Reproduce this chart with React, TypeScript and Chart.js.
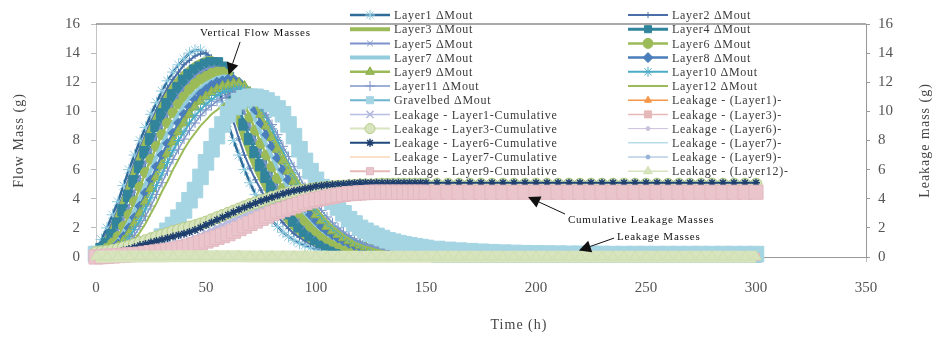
import React, { useEffect, useRef } from 'react';
import { Chart, registerables } from 'chart.js';
import { drawPoint } from 'chart.js/helpers';

Chart.register(...registerables);

const SERIF = "'Liberation Serif', 'Times New Roman', serif";

// time axis (h) for flow and cumulative series
const hours = [
  0, 2.5, 5, 7.5, 10, 12.5, 15, 17.5, 20, 22.5,
  25, 27.5, 30, 32.5, 35, 37.5, 40, 42.5, 45, 47.5,
  50, 52.5, 55, 57.5, 60, 62.5, 65, 67.5, 70, 72.5,
  75, 77.5, 80, 82.5, 85, 87.5, 90, 92.5, 95, 97.5,
  100, 102.5, 105, 107.5, 110, 112.5, 115, 117.5, 120, 122.5,
  125, 127.5, 130, 132.5, 135, 137.5, 140, 142.5, 145, 147.5,
  150,
  155, 160, 165, 170, 175, 180, 185, 190, 195, 200,
  205, 210, 215, 220, 225, 230, 235, 240, 245, 250,
  255, 260, 265, 270, 275, 280, 285, 290, 295, 300,
];
// time axis (h) for the leakage-rate series
const rateHours = [
  0, 5, 10, 15, 20, 25, 30, 35, 40, 45,
  50, 55, 60, 65, 70, 75, 80, 85, 90, 95,
  100, 105, 110, 115, 120, 125, 130, 135, 140, 145,
  150, 155, 160, 165, 170, 175, 180, 185, 190, 195,
  200, 205, 210, 215, 220, 225, 230, 235, 240, 245,
  250, 255, 260, 265, 270, 275, 280, 285, 290, 295,
  300,
];

const xTicks = [0, 50, 100, 150, 200, 250, 300, 350];
const yTicks = [0, 2, 4, 6, 8, 10, 12, 14, 16];

// Flow mass out (g) per layer, on `hours`
const layer1 = [
  0.5, 1.2, 2.0, 2.9, 3.8, 4.9, 6.0, 7.0, 8.0, 8.9,
  9.8, 10.6, 11.4, 12.1, 12.7, 13.2, 13.6, 14.0, 14.2, 14.2,
  13.9, 13.1, 12.0, 10.6, 9.2, 8.0, 7.0, 6.0, 5.1, 4.3,
  3.6, 3.0, 2.5, 2.1, 1.7, 1.4, 1.15, 0.95, 0.8, 0.65,
  0.55, 0.45, 0.4, 0.35, 0.3, 0.27, 0.25, 0.22, 0.2, 0.2,
  0.18, 0.17, 0.16, 0.15, 0.15, 0.15, 0.15, 0.15, 0.15, 0.15,
  0.1,
  0.05, 0.05, 0.05, 0.05, 0.05, 0.05, 0.05, 0.05, 0.05, 0.05,
  0.05, 0.05, 0.05, 0.05, 0.05, 0.05, 0.05, 0.05, 0.05, 0.05,
  0.05, 0.05, 0.05, 0.05, 0.05, 0.05, 0.05, 0.05, 0.05, 0.05,
];
const layer2 = [
  0.4, 0.9, 1.6, 2.4, 3.3, 4.3, 5.4, 6.5, 7.5, 8.4,
  9.3, 10.1, 10.9, 11.6, 12.2, 12.7, 13.2, 13.5, 13.8, 13.95,
  14.0, 13.7, 13.0, 11.9, 10.6, 9.3, 8.1, 7.0, 6.1, 5.3,
  4.6, 3.9, 3.3, 2.8, 2.35, 1.95, 1.6, 1.35, 1.1, 0.9,
  0.75, 0.62, 0.52, 0.45, 0.38, 0.33, 0.29, 0.26, 0.23, 0.21,
  0.2, 0.18, 0.17, 0.16, 0.15, 0.15, 0.15, 0.15, 0.15, 0.15,
  0.1,
  0.05, 0.05, 0.05, 0.05, 0.05, 0.05, 0.05, 0.05, 0.05, 0.05,
  0.05, 0.05, 0.05, 0.05, 0.05, 0.05, 0.05, 0.05, 0.05, 0.05,
  0.05, 0.05, 0.05, 0.05, 0.05, 0.05, 0.05, 0.05, 0.05, 0.05,
];
const layer3 = [
  0.3, 0.7, 1.2, 1.9, 2.8, 3.8, 4.8, 5.9, 6.9, 7.9,
  8.8, 9.6, 10.4, 11.1, 11.7, 12.2, 12.6, 12.9, 13.2, 13.4,
  13.55, 13.6, 13.4, 12.7, 11.6, 10.4, 9.2, 8.1, 7.1, 6.2,
  5.4, 4.7, 4.0, 3.4, 2.9, 2.4, 2.0, 1.7, 1.4, 1.15,
  0.95, 0.8, 0.67, 0.56, 0.47, 0.4, 0.34, 0.3, 0.26, 0.23,
  0.21, 0.19, 0.18, 0.17, 0.16, 0.15, 0.15, 0.15, 0.15, 0.15,
  0.1,
  0.05, 0.05, 0.05, 0.05, 0.05, 0.05, 0.05, 0.05, 0.05, 0.05,
  0.05, 0.05, 0.05, 0.05, 0.05, 0.05, 0.05, 0.05, 0.05, 0.05,
  0.05, 0.05, 0.05, 0.05, 0.05, 0.05, 0.05, 0.05, 0.05, 0.05,
];
const layer4 = [
  0.3, 0.55, 0.9, 1.5, 2.3, 3.2, 4.2, 5.2, 6.2, 7.2,
  8.1, 9.0, 9.8, 10.5, 11.1, 11.6, 12.1, 12.5, 12.8, 13.0,
  13.2, 13.3, 13.3, 13.0, 12.3, 11.3, 10.2, 9.1, 8.1, 7.2,
  6.3, 5.5, 4.8, 4.1, 3.5, 3.0, 2.5, 2.1, 1.8, 1.5,
  1.25, 1.05, 0.88, 0.74, 0.62, 0.52, 0.44, 0.38, 0.33, 0.28,
  0.25, 0.22, 0.2, 0.18, 0.17, 0.16, 0.15, 0.15, 0.15, 0.15,
  0.1,
  0.05, 0.05, 0.05, 0.05, 0.05, 0.05, 0.05, 0.05, 0.05, 0.05,
  0.05, 0.05, 0.05, 0.05, 0.05, 0.05, 0.05, 0.05, 0.05, 0.05,
  0.05, 0.05, 0.05, 0.05, 0.05, 0.05, 0.05, 0.05, 0.05, 0.05,
];
const layer5 = [
  0.2, 0.4, 0.7, 1.2, 1.8, 2.6, 3.5, 4.5, 5.5, 6.5,
  7.4, 8.3, 9.1, 9.8, 10.5, 11.1, 11.6, 12.0, 12.4, 12.7,
  12.9, 13.0, 13.0, 12.9, 12.5, 11.8, 10.9, 9.9, 8.9, 8.0,
  7.1, 6.3, 5.5, 4.8, 4.1, 3.5, 3.0, 2.5, 2.1, 1.8,
  1.5, 1.27, 1.07, 0.9, 0.76, 0.64, 0.54, 0.46, 0.39, 0.34,
  0.3, 0.26, 0.23, 0.21, 0.19, 0.17, 0.16, 0.15, 0.15, 0.15,
  0.1,
  0.05, 0.05, 0.05, 0.05, 0.05, 0.05, 0.05, 0.05, 0.05, 0.05,
  0.05, 0.05, 0.05, 0.05, 0.05, 0.05, 0.05, 0.05, 0.05, 0.05,
  0.05, 0.05, 0.05, 0.05, 0.05, 0.05, 0.05, 0.05, 0.05, 0.05,
];
const layer6 = [
  0.2, 0.4, 0.6, 0.95, 1.4, 2.1, 2.9, 3.8, 4.8, 5.8,
  6.7, 7.6, 8.4, 9.2, 9.9, 10.5, 11.0, 11.5, 11.9, 12.2,
  12.4, 12.6, 12.7, 12.7, 12.5, 12.1, 11.4, 10.5, 9.6, 8.7,
  7.8, 7.0, 6.2, 5.4, 4.7, 4.1, 3.5, 3.0, 2.5, 2.1,
  1.8, 1.5, 1.28, 1.08, 0.92, 0.78, 0.66, 0.56, 0.48, 0.41,
  0.35, 0.3, 0.26, 0.23, 0.21, 0.19, 0.17, 0.16, 0.15, 0.15,
  0.1,
  0.05, 0.05, 0.05, 0.05, 0.05, 0.05, 0.05, 0.05, 0.05, 0.05,
  0.05, 0.05, 0.05, 0.05, 0.05, 0.05, 0.05, 0.05, 0.05, 0.05,
  0.05, 0.05, 0.05, 0.05, 0.05, 0.05, 0.05, 0.05, 0.05, 0.05,
];
const layer7 = [
  0.1, 0.3, 0.5, 0.75, 1.1, 1.7, 2.4, 3.2, 4.1, 5.0,
  6.0, 6.9, 7.7, 8.5, 9.2, 9.8, 10.4, 10.9, 11.3, 11.6,
  11.9, 12.1, 12.3, 12.4, 12.4, 12.2, 11.8, 11.1, 10.3, 9.4,
  8.5, 7.7, 6.9, 6.1, 5.4, 4.7, 4.1, 3.5, 3.0, 2.6,
  2.2, 1.85, 1.57, 1.33, 1.13, 0.96, 0.82, 0.7, 0.6, 0.51,
  0.44, 0.38, 0.33, 0.29, 0.25, 0.22, 0.2, 0.18, 0.16, 0.15,
  0.1,
  0.05, 0.05, 0.05, 0.05, 0.05, 0.05, 0.05, 0.05, 0.05, 0.05,
  0.05, 0.05, 0.05, 0.05, 0.05, 0.05, 0.05, 0.05, 0.05, 0.05,
  0.05, 0.05, 0.05, 0.05, 0.05, 0.05, 0.05, 0.05, 0.05, 0.05,
];
const layer8 = [
  0.1, 0.25, 0.4, 0.6, 0.9, 1.4, 2.0, 2.7, 3.5, 4.4,
  5.3, 6.2, 7.0, 7.8, 8.5, 9.2, 9.8, 10.3, 10.8, 11.2,
  11.5, 11.8, 12.0, 12.1, 12.2, 12.2, 12.0, 11.6, 10.9, 10.1,
  9.2, 8.4, 7.6, 6.8, 6.0, 5.3, 4.6, 4.0, 3.4, 2.9,
  2.5, 2.1, 1.8, 1.53, 1.3, 1.1, 0.94, 0.8, 0.68, 0.58,
  0.5, 0.43, 0.37, 0.32, 0.28, 0.24, 0.21, 0.19, 0.17, 0.15,
  0.1,
  0.05, 0.05, 0.05, 0.05, 0.05, 0.05, 0.05, 0.05, 0.05, 0.05,
  0.05, 0.05, 0.05, 0.05, 0.05, 0.05, 0.05, 0.05, 0.05, 0.05,
  0.05, 0.05, 0.05, 0.05, 0.05, 0.05, 0.05, 0.05, 0.05, 0.05,
];
const layer9 = [
  0.1, 0.2, 0.3, 0.45, 0.7, 1.1, 1.6, 2.3, 3.0, 3.8,
  4.7, 5.5, 6.3, 7.1, 7.9, 8.6, 9.2, 9.8, 10.3, 10.7,
  11.0, 11.3, 11.5, 11.7, 11.8, 11.9, 11.9, 11.7, 11.3, 10.6,
  9.8, 9.0, 8.2, 7.4, 6.6, 5.9, 5.2, 4.5, 3.9, 3.4,
  2.9, 2.5, 2.1, 1.8, 1.55, 1.32, 1.12, 0.95, 0.81, 0.69,
  0.59, 0.5, 0.43, 0.37, 0.32, 0.28, 0.24, 0.21, 0.18, 0.16,
  0.1,
  0.05, 0.05, 0.05, 0.05, 0.05, 0.05, 0.05, 0.05, 0.05, 0.05,
  0.05, 0.05, 0.05, 0.05, 0.05, 0.05, 0.05, 0.05, 0.05, 0.05,
  0.05, 0.05, 0.05, 0.05, 0.05, 0.05, 0.05, 0.05, 0.05, 0.05,
];
const layer10 = [
  0.1, 0.15, 0.2, 0.3, 0.5, 0.85, 1.3, 1.9, 2.5, 3.3,
  4.1, 4.9, 5.7, 6.5, 7.3, 8.0, 8.6, 9.2, 9.7, 10.1,
  10.5, 10.8, 11.1, 11.3, 11.4, 11.5, 11.6, 11.5, 11.3, 10.9,
  10.3, 9.6, 8.8, 8.0, 7.2, 6.4, 5.7, 5.0, 4.4, 3.8,
  3.3, 2.85, 2.45, 2.1, 1.8, 1.55, 1.32, 1.12, 0.95, 0.81,
  0.69, 0.59, 0.5, 0.43, 0.37, 0.32, 0.27, 0.23, 0.2, 0.17,
  0.1,
  0.05, 0.05, 0.05, 0.05, 0.05, 0.05, 0.05, 0.05, 0.05, 0.05,
  0.05, 0.05, 0.05, 0.05, 0.05, 0.05, 0.05, 0.05, 0.05, 0.05,
  0.05, 0.05, 0.05, 0.05, 0.05, 0.05, 0.05, 0.05, 0.05, 0.05,
];
const layer11 = [
  0.1, 0.15, 0.2, 0.28, 0.4, 0.65, 1.0, 1.5, 2.1, 2.8,
  3.5, 4.3, 5.1, 5.9, 6.7, 7.4, 8.1, 8.7, 9.2, 9.7,
  10.1, 10.4, 10.7, 10.9, 11.1, 11.3, 11.4, 11.4, 11.2, 10.9,
  10.4, 9.8, 9.1, 8.4, 7.6, 6.9, 6.2, 5.5, 4.8, 4.2,
  3.7, 3.2, 2.75, 2.35, 2.0, 1.72, 1.47, 1.25, 1.06, 0.9,
  0.77, 0.65, 0.55, 0.47, 0.4, 0.34, 0.29, 0.25, 0.21, 0.18,
  0.1,
  0.05, 0.05, 0.05, 0.05, 0.05, 0.05, 0.05, 0.05, 0.05, 0.05,
  0.05, 0.05, 0.05, 0.05, 0.05, 0.05, 0.05, 0.05, 0.05, 0.05,
  0.05, 0.05, 0.05, 0.05, 0.05, 0.05, 0.05, 0.05, 0.05, 0.05,
];
const layer12 = [
  0.0, 0.05, 0.1, 0.2, 0.3, 0.5, 0.8, 1.2, 1.7, 2.3,
  3.0, 3.7, 4.5, 5.2, 6.0, 6.7, 7.4, 8.0, 8.5, 9.0,
  9.4, 9.8, 10.1, 10.4, 10.7, 10.9, 11.1, 11.2, 11.0, 10.4,
  9.6, 9.0, 8.4, 7.7, 7.0, 6.3, 5.7, 5.1, 4.5, 3.9,
  3.4, 2.9, 2.5, 2.1, 1.8, 1.5, 1.25, 1.0, 0.85, 0.7,
  0.6, 0.5, 0.42, 0.35, 0.3, 0.25, 0.2, 0.18, 0.16, 0.15,
  0.1,
  0.05, 0.05, 0.05, 0.05, 0.05, 0.05, 0.05, 0.05, 0.05, 0.05,
  0.05, 0.05, 0.05, 0.05, 0.05, 0.05, 0.05, 0.05, 0.05, 0.05,
  0.05, 0.05, 0.05, 0.05, 0.05, 0.05, 0.05, 0.05, 0.05, 0.05,
];
const gravelbed = [
  0.2, 0.2, 0.2, 0.25, 0.3, 0.35, 0.4, 0.5, 0.6, 0.75,
  0.9, 1.1, 1.4, 1.8, 2.2, 2.7, 3.2, 3.9, 4.6, 5.5,
  6.5, 7.4, 8.3, 9.1, 9.8, 10.3, 10.7, 10.9, 11.0, 11.0,
  10.9, 10.75, 10.5, 10.2, 9.8, 9.1, 8.3, 7.4, 6.6, 5.9,
  5.3, 4.8, 4.3, 3.8, 3.4, 3.0, 2.6, 2.3, 2.0, 1.8,
  1.6, 1.45, 1.3, 1.15, 1.05, 0.95, 0.87, 0.8, 0.74, 0.68,
  0.62,
  0.55, 0.49, 0.44, 0.4, 0.36, 0.33, 0.3, 0.28, 0.26, 0.25,
  0.24, 0.23, 0.22, 0.22, 0.21, 0.21, 0.2, 0.2, 0.2, 0.2,
  0.2, 0.2, 0.2, 0.2, 0.2, 0.2, 0.2, 0.2, 0.2, 0.2,
];

// Cumulative leakage masses (g), right axis, on `hours`
const cumL1 = [
  0.0, 0.02, 0.05, 0.07, 0.1, 0.15, 0.2, 0.25, 0.3, 0.37,
  0.45, 0.52, 0.6, 0.7, 0.8, 0.92, 1.05, 1.2, 1.35, 1.52,
  1.7, 1.87, 2.05, 2.22, 2.4, 2.57, 2.75, 2.9, 3.05, 3.2,
  3.35, 3.48, 3.6, 3.7, 3.8, 3.88, 3.95, 4.0, 4.05, 4.1,
  4.15, 4.17, 4.2, 4.22, 4.25, 4.27, 4.3, 4.3, 4.3, 4.3,
  4.3, 4.3, 4.3, 4.3, 4.3, 4.3, 4.3, 4.3, 4.3, 4.3,
  4.3,
  4.3, 4.3, 4.3, 4.3, 4.3, 4.3, 4.3, 4.3, 4.3, 4.3,
  4.3, 4.3, 4.3, 4.3, 4.3, 4.3, 4.3, 4.3, 4.3, 4.3,
  4.3, 4.3, 4.3, 4.3, 4.3, 4.3, 4.3, 4.3, 4.3, 4.3,
];
const cumL3 = [
  0.3, 0.35, 0.4, 0.47, 0.55, 0.65, 0.75, 0.87, 1.0, 1.12,
  1.25, 1.37, 1.5, 1.62, 1.75, 1.85, 1.95, 2.05, 2.15, 2.27,
  2.4, 2.55, 2.7, 2.85, 3.0, 3.15, 3.3, 3.45, 3.6, 3.72,
  3.85, 3.97, 4.1, 4.2, 4.3, 4.4, 4.5, 4.55, 4.6, 4.65,
  4.7, 4.75, 4.8, 4.82, 4.85, 4.87, 4.9, 4.92, 4.95, 4.95,
  4.95, 4.97, 5.0, 5.0, 5.0, 5.0, 5.0, 5.0, 5.0, 5.0,
  5.0,
  5.0, 5.0, 5.0, 5.0, 5.0, 5.0, 5.0, 5.0, 5.0, 5.0,
  5.0, 5.0, 5.0, 5.0, 5.0, 5.0, 5.0, 5.0, 5.0, 5.0,
  5.0, 5.0, 5.0, 5.0, 5.0, 5.0, 5.0, 5.0, 5.0, 5.0,
];
const cumL6 = [
  0.1, 0.15, 0.2, 0.27, 0.35, 0.45, 0.55, 0.67, 0.8, 0.9,
  1.0, 1.1, 1.2, 1.3, 1.4, 1.5, 1.6, 1.72, 1.85, 2.02,
  2.2, 2.37, 2.55, 2.72, 2.9, 3.07, 3.25, 3.4, 3.55, 3.7,
  3.85, 3.97, 4.1, 4.22, 4.35, 4.45, 4.55, 4.62, 4.7, 4.77,
  4.85, 4.9, 4.95, 4.97, 5.0, 5.02, 5.05, 5.07, 5.1, 5.1,
  5.1, 5.1, 5.1, 5.1, 5.1, 5.1, 5.1, 5.1, 5.1, 5.1,
  5.1,
  5.1, 5.1, 5.1, 5.1, 5.1, 5.1, 5.1, 5.1, 5.1, 5.1,
  5.1, 5.1, 5.1, 5.1, 5.1, 5.1, 5.1, 5.1, 5.1, 5.1,
  5.1, 5.1, 5.1, 5.1, 5.1, 5.1, 5.1, 5.1, 5.1, 5.1,
];
const cumL7 = [
  0.0, 0.02, 0.05, 0.07, 0.1, 0.12, 0.15, 0.17, 0.2, 0.25,
  0.3, 0.37, 0.45, 0.52, 0.6, 0.7, 0.8, 0.9, 1.0, 1.12,
  1.25, 1.37, 1.5, 1.65, 1.8, 1.95, 2.1, 2.25, 2.4, 2.55,
  2.7, 2.85, 3.0, 3.15, 3.3, 3.42, 3.55, 3.67, 3.8, 3.9,
  4.0, 4.07, 4.15, 4.22, 4.3, 4.35, 4.4, 4.42, 4.45, 4.47,
  4.5, 4.5, 4.5, 4.5, 4.5, 4.5, 4.5, 4.5, 4.5, 4.5,
  4.5,
  4.5, 4.5, 4.5, 4.5, 4.5, 4.5, 4.5, 4.5, 4.5, 4.5,
  4.5, 4.5, 4.5, 4.5, 4.5, 4.5, 4.5, 4.5, 4.5, 4.5,
  4.5, 4.5, 4.5, 4.5, 4.5, 4.5, 4.5, 4.5, 4.5, 4.5,
];
const cumL9 = [
  0.0, 0.02, 0.05, 0.07, 0.1, 0.12, 0.15, 0.17, 0.2, 0.25,
  0.3, 0.35, 0.4, 0.45, 0.5, 0.57, 0.65, 0.75, 0.85, 0.97,
  1.1, 1.22, 1.35, 1.47, 1.6, 1.77, 1.95, 2.12, 2.3, 2.47,
  2.65, 2.82, 3.0, 3.12, 3.25, 3.37, 3.5, 3.62, 3.75, 3.85,
  3.95, 4.02, 4.1, 4.17, 4.25, 4.3, 4.35, 4.37, 4.4, 4.42,
  4.45, 4.45, 4.45, 4.45, 4.45, 4.45, 4.45, 4.45, 4.45, 4.45,
  4.45,
  4.45, 4.45, 4.45, 4.45, 4.45, 4.45, 4.45, 4.45, 4.45, 4.45,
  4.45, 4.45, 4.45, 4.45, 4.45, 4.45, 4.45, 4.45, 4.45, 4.45,
  4.45, 4.45, 4.45, 4.45, 4.45, 4.45, 4.45, 4.45, 4.45, 4.45,
];

// Leakage masses per step (g), right axis, on `rateHours`
const leakL1 = [
  0.0, 0.02, 0.03, 0.04, 0.05, 0.06, 0.07, 0.07, 0.08, 0.08,
  0.08, 0.08, 0.07, 0.07, 0.06, 0.06, 0.05, 0.04, 0.03, 0.03,
  0.02, 0.02, 0.01, 0.01, 0.01, 0.0, 0.0, 0.0, 0.0, 0.0,
  0.0, 0.0, 0.0, 0.0, 0.0, 0.0, 0.0, 0.0, 0.0, 0.0,
  0.0, 0.0, 0.0, 0.0, 0.0, 0.0, 0.0, 0.0, 0.0, 0.0,
  0.0, 0.0, 0.0, 0.0, 0.0, 0.0, 0.0, 0.0, 0.0, 0.0,
  0.0,
];
const leakL3 = [
  0.1, 0.05, 0.06, 0.08, 0.1, 0.1, 0.12, 0.12, 0.12, 0.12,
  0.12, 0.1, 0.1, 0.08, 0.08, 0.06, 0.05, 0.04, 0.03, 0.02,
  0.02, 0.01, 0.01, 0.01, 0.01, 0.01, 0.01, 0.01, 0.01, 0.01,
  0.01, 0.01, 0.01, 0.01, 0.01, 0.01, 0.01, 0.01, 0.01, 0.01,
  0.01, 0.01, 0.01, 0.01, 0.01, 0.01, 0.01, 0.01, 0.01, 0.01,
  0.01, 0.01, 0.01, 0.01, 0.01, 0.01, 0.01, 0.01, 0.01, 0.01,
  0.01,
];
const leakL6 = [
  0.05, 0.06, 0.07, 0.08, 0.08, 0.08, 0.08, 0.09, 0.1, 0.1,
  0.1, 0.1, 0.09, 0.09, 0.08, 0.08, 0.07, 0.06, 0.05, 0.04,
  0.03, 0.02, 0.02, 0.01, 0.01, 0.01, 0.01, 0.01, 0.01, 0.01,
  0.01, 0.01, 0.01, 0.01, 0.01, 0.01, 0.01, 0.01, 0.01, 0.01,
  0.01, 0.01, 0.01, 0.01, 0.01, 0.01, 0.01, 0.01, 0.01, 0.01,
  0.01, 0.01, 0.01, 0.01, 0.01, 0.01, 0.01, 0.01, 0.01, 0.01,
  0.01,
];
const leakL7 = [
  0.04, 0.05, 0.06, 0.07, 0.07, 0.08, 0.08, 0.08, 0.08, 0.08,
  0.08, 0.08, 0.08, 0.07, 0.07, 0.06, 0.06, 0.05, 0.04, 0.03,
  0.03, 0.02, 0.02, 0.01, 0.01, 0.01, 0.01, 0.01, 0.01, 0.01,
  0.01, 0.01, 0.01, 0.01, 0.01, 0.01, 0.01, 0.01, 0.01, 0.01,
  0.01, 0.01, 0.01, 0.01, 0.01, 0.01, 0.01, 0.01, 0.01, 0.01,
  0.01, 0.01, 0.01, 0.01, 0.01, 0.01, 0.01, 0.01, 0.01, 0.01,
  0.01,
];
const leakL9 = [
  0.03, 0.04, 0.05, 0.06, 0.06, 0.07, 0.07, 0.07, 0.08, 0.08,
  0.08, 0.08, 0.08, 0.08, 0.07, 0.07, 0.06, 0.06, 0.05, 0.04,
  0.04, 0.03, 0.02, 0.02, 0.01, 0.01, 0.01, 0.01, 0.01, 0.01,
  0.01, 0.01, 0.01, 0.01, 0.01, 0.01, 0.01, 0.01, 0.01, 0.01,
  0.01, 0.01, 0.01, 0.01, 0.01, 0.01, 0.01, 0.01, 0.01, 0.01,
  0.01, 0.01, 0.01, 0.01, 0.01, 0.01, 0.01, 0.01, 0.01, 0.01,
  0.01,
];
const leakL12 = [
  0.02, 0.02, 0.03, 0.03, 0.04, 0.04, 0.04, 0.05, 0.05, 0.05,
  0.05, 0.05, 0.05, 0.05, 0.04, 0.04, 0.04, 0.03, 0.03, 0.03,
  0.02, 0.02, 0.02, 0.01, 0.01, 0.01, 0.01, 0.01, 0.01, 0.01,
  0.01, 0.01, 0.01, 0.01, 0.01, 0.01, 0.01, 0.01, 0.01, 0.01,
  0.01, 0.01, 0.01, 0.01, 0.01, 0.01, 0.01, 0.01, 0.01, 0.01,
  0.01, 0.01, 0.01, 0.01, 0.01, 0.01, 0.01, 0.01, 0.01, 0.01,
  0.01,
];

// Series in Excel order (legend reads row by row, two columns)
const seriesNames = [
  'Layer1 ΔMout', 'Layer2 ΔMout', 'Layer3 ΔMout', 'Layer4 ΔMout',
  'Layer5 ΔMout', 'Layer6 ΔMout', 'Layer7 ΔMout', 'Layer8 ΔMout',
  'Layer9 ΔMout', 'Layer10 ΔMout', 'Layer11 ΔMout', 'Layer12 ΔMout',
  'Gravelbed ΔMout', 'Leakage - (Layer1)-',
  'Leakage - Layer1-Cumulative', 'Leakage - (Layer3)-',
  'Leakage - Layer3-Cumulative', 'Leakage - (Layer6)-',
  'Leakage - Layer6-Cumulative', 'Leakage - (Layer7)-',
  'Leakage - Layer7-Cumulative', 'Leakage - (Layer9)-',
  'Leakage - Layer9-Cumulative', 'Leakage - (Layer12)-',
];
const seriesValues = [
  layer1, layer2, layer3, layer4, layer5, layer6, layer7, layer8,
  layer9, layer10, layer11, layer12, gravelbed, leakL1, cumL1, leakL3,
  cumL3, leakL6, cumL6, leakL7, cumL7, leakL9, cumL9, leakL12,
];
const seriesTimes = [
  hours, hours, hours, hours, hours, hours, hours, hours,
  hours, hours, hours, hours, hours, rateHours, hours, rateHours,
  hours, rateHours, hours, rateHours, hours, rateHours, hours, rateHours,
];

type Sty = {
  c: string; w: number; ps?: string; r?: number; bg?: string; pb?: string; pw?: number; lw?: number;
};
const styles: Sty[] = [
  { c: '#2F6C9A', w: 2.5, ps: 'star', r: 6, pb: '#8FCBE0', pw: 1 },
  { c: '#4A6FA8', w: 2, ps: 'cross', r: 3, pb: '#4A6FA8', pw: 1 },
  { c: '#9BBB59', w: 6 },
  { c: '#31849B', w: 3, ps: 'rect', r: 8, bg: '#31849B', pb: '#31849B', pw: 1 },
  { c: '#7D93C9', w: 2, ps: 'crossRot', r: 4, pb: '#7D93C9', pw: 1 },
  { c: '#9BBB59', w: 2.5, ps: 'circle', r: 5, bg: '#9BBB59', pb: '#9BBB59', pw: 1 },
  { c: '#93CDDD', w: 4 },
  { c: '#4A7EBB', w: 2.5, ps: 'rectRot', r: 5, bg: '#4A7EBB', pb: '#4A7EBB', pw: 1 },
  { c: '#9BBB59', w: 2.5, ps: 'triangle', r: 6, bg: '#9BBB59', pb: '#8CAE4C', pw: 1 },
  { c: '#4BACC6', w: 2, ps: 'star', r: 5, pb: '#4BACC6', pw: 1 },
  { c: '#7F96C8', w: 1.5, ps: 'cross', r: 5, pb: '#7F96C8', pw: 1 },
  { c: '#9BBB59', w: 2 },
  { c: '#6BB5CF', w: 2, ps: 'rect', r: 11, bg: '#A5D5E3', pb: '#A5D5E3', pw: 1 },
  { c: '#F79646', w: 1.5, ps: 'triangle', r: 4, bg: '#F79646', pb: '#F79646', pw: 1 },
  { c: '#B9BEE3', w: 1.5, ps: 'crossRot', r: 6, pb: '#B3B8E0', pw: 1.5 },
  { c: '#E6B9B8', w: 1.5, ps: 'rect', r: 5, bg: '#E6B9B8', pb: '#E6B9B8', pw: 1 },
  { c: '#D7E4BD', w: 2, ps: 'circle', r: 6, bg: '#D7E4BD', pb: '#B5CC86', pw: 1 },
  { c: '#CCC1DA', w: 1, ps: 'circle', r: 2, bg: '#CCC1DA', pb: '#CCC1DA', pw: 1 },
  { c: '#1F497D', w: 2, ps: 'star', r: 4, pb: '#1F3F6F', pw: 1.5 },
  { c: '#B7DEE8', w: 1.5 },
  { c: '#FAC090', w: 1 },
  { c: '#95B3D7', w: 1, ps: 'circle', r: 2, bg: '#95B3D7', pb: '#95B3D7', pw: 1 },
  { c: '#E6B9B8', w: 2, ps: 'rect', r: 10, bg: '#EAC6CC', pb: '#E3B8C0', pw: 1 },
  { c: '#D7E4BD', w: 12, ps: 'triangle', r: 6, bg: '#D7E4BD', pb: '#CFDFB0', pw: 1, lw: 1.5 },
];

// annotations in data coordinates (time h, mass g)
const noteLabels = ['Vertical Flow Masses', 'Cumulative Leakage Masses', 'Leakage Masses'];
const noteText = [
  { x: 47.3, y: 15.38 },
  { x: 214.5, y: 2.54 },
  { x: 236.8, y: 1.37 },
];
const noteArrow = [
  { x1: 65.5, y1: 14.77, x2: 60.3, y2: 12.5 },
  { x1: 213.2, y1: 2.95, x2: 196.4, y2: 4.12 },
  { x1: 235.5, y1: 1.3, x2: 219.5, y2: 0.45 },
];

function arrow(ctx: CanvasRenderingContext2D, x1: number, y1: number, x2: number, y2: number) {
  const a = Math.atan2(y2 - y1, x2 - x1);
  const L = 12, W = 6;
  const cx = Math.cos(a), sx = Math.sin(a);
  const bx = x2 - L * cx, by = y2 - L * sx;
  ctx.beginPath();
  ctx.moveTo(x1, y1);
  ctx.lineTo(bx, by);
  ctx.stroke();
  ctx.beginPath();
  ctx.moveTo(x2, y2);
  ctx.lineTo(bx + W * sx, by - W * cx);
  ctx.lineTo(bx - W * sx, by + W * cx);
  ctx.closePath();
  ctx.fill();
}

const overlay = {
  id: 'overlay',
  afterDatasetsDraw(chart: any) {
    const { ctx, chartArea, scales } = chart;
    ctx.save();
    ctx.strokeStyle = '#8c8c8c';
    ctx.lineWidth = 1.5;
    ctx.beginPath();
    ctx.moveTo(chartArea.left, chartArea.top);
    ctx.lineTo(chartArea.right, chartArea.top);
    ctx.stroke();

    // annotations
    ctx.fillStyle = '#111';
    ctx.strokeStyle = '#111';
    ctx.lineWidth = 1;
    ctx.font = `11px ${SERIF}`;
    (ctx as any).letterSpacing = '0.8px';
    ctx.textAlign = 'left';
    ctx.textBaseline = 'middle';
    noteLabels.forEach((t, i) => {
      const p = noteText[i];
      ctx.fillText(t, scales.x.getPixelForValue(p.x), scales.y.getPixelForValue(p.y));
      const a = noteArrow[i];
      arrow(ctx,
        scales.x.getPixelForValue(a.x1), scales.y.getPixelForValue(a.y1),
        scales.x.getPixelForValue(a.x2), scales.y.getPixelForValue(a.y2));
    });
    ctx.restore();
  },
  afterDraw(chart: any) {
    const { ctx, chartArea } = chart;
    ctx.save();
    // legend
    const colX = [350, 628];
    ctx.font = `12px ${SERIF}`;
    (ctx as any).letterSpacing = '0.7px';
    ctx.textBaseline = 'middle';
    ctx.textAlign = 'left';
    seriesNames.forEach((name, i) => {
      const s = styles[i];
      const x0 = colX[i % 2];
      const y = 15 + Math.floor(i / 2) * 14.2;
      ctx.strokeStyle = s.c;
      ctx.lineWidth = s.lw || Math.min(s.w, 4);
      ctx.beginPath();
      ctx.moveTo(x0, y);
      ctx.lineTo(x0 + 40, y);
      ctx.stroke();
      if (s.ps && s.r) {
        ctx.fillStyle = s.bg || s.c;
        ctx.strokeStyle = s.pb || s.c;
        ctx.lineWidth = s.pw || 1;
        drawPoint(ctx, { pointStyle: s.ps as any, radius: Math.min(s.r, 5), rotation: 0, borderWidth: s.pw || 1 } as any, x0 + 20, y);
      }
      ctx.fillStyle = '#3a3a3a';
      ctx.fillText(name, x0 + 44, y + 1);
    });

    // axis titles
    ctx.fillStyle = '#444';
    ctx.font = `14px ${SERIF}`;
    (ctx as any).letterSpacing = '1px';
    ctx.textAlign = 'center';
    const midY = (chartArea.top + chartArea.bottom) / 2;
    ctx.save();
    ctx.translate(19, midY);
    ctx.rotate(-Math.PI / 2);
    ctx.fillText('Flow Mass (g)', 0, 0);
    ctx.restore();
    ctx.save();
    ctx.translate(925, midY);
    ctx.rotate(-Math.PI / 2);
    ctx.fillText('Leakage mass (g)', 0, 0);
    ctx.restore();
    ctx.fillText('Time (h)', 519, 325);
    ctx.restore();
  },
};

export default function App() {
  const ref = useRef<HTMLCanvasElement>(null);
  useEffect(() => {
    document.body.style.margin = '0';
    Chart.defaults.font.family = SERIF;
    const datasets = seriesNames.map((name, i) => {
      const s = styles[i];
      const t = seriesTimes[i];
      return {
        label: name,
        data: t.map((h, k) => ({ x: h, y: seriesValues[i][k] })),
        yAxisID: i < 13 ? 'y' : 'y2',
        borderColor: s.c,
        borderWidth: s.w,
        pointStyle: (s.ps || 'circle') as any,
        pointRadius: s.r || 0,
        pointBackgroundColor: s.bg || s.c,
        pointBorderColor: s.pb || s.c,
        pointBorderWidth: s.pw || 1,
        tension: 0,
        fill: false,
        clip: false as any,
        order: 100 - i,
      };
    });
    const tickFont = { size: 15, family: SERIF };
    const chart = new Chart(ref.current!, {
      type: 'line',
      data: { datasets },
      options: {
        animation: false,
        responsive: false,
        devicePixelRatio: 1,
        events: [],
        layout: { padding: { top: 24, left: 0, right: 0, bottom: 0 } },
        plugins: { legend: { display: false }, tooltip: { enabled: false }, title: { display: false } },
        scales: {
          x: {
            type: 'linear', min: 0, max: 350,
            afterBuildTicks: (s: any) => { s.ticks = xTicks.map((v) => ({ value: v })); },
            ticks: { color: '#555', font: tickFont, padding: 17, maxRotation: 0 },
            grid: { drawOnChartArea: false, tickLength: 5, color: '#bbb' },
            border: { color: '#999' },
            afterFit: (s: any) => { s.height = 80; },
          },
          y: {
            position: 'left', min: 0, max: 16,
            afterBuildTicks: (s: any) => { s.ticks = yTicks.map((v) => ({ value: v })); },
            ticks: { color: '#555', font: tickFont, padding: 11 },
            grid: { drawOnChartArea: false, tickLength: 5, color: '#bbb' },
            border: { color: '#c4c4c4' },
            afterFit: (s: any) => { s.width = 96; },
          },
          y2: {
            position: 'right', min: 0, max: 16,
            afterBuildTicks: (s: any) => { s.ticks = yTicks.map((v) => ({ value: v })); },
            ticks: { color: '#555', font: tickFont, padding: 8 },
            grid: { drawOnChartArea: false, tickLength: 4, color: '#999' },
            border: { color: '#999' },
            afterFit: (s: any) => { s.width = 73; },
          },
        },
      } as any,
      plugins: [overlay as any],
    });
    return () => chart.destroy();
  }, []);
  return (
    <div style={{ position: 'fixed', left: 0, top: 0, width: 939, height: 337, background: '#fff' }}>
      <canvas ref={ref} width={939} height={337} style={{ width: 939, height: 337 }} />
    </div>
  );
}
